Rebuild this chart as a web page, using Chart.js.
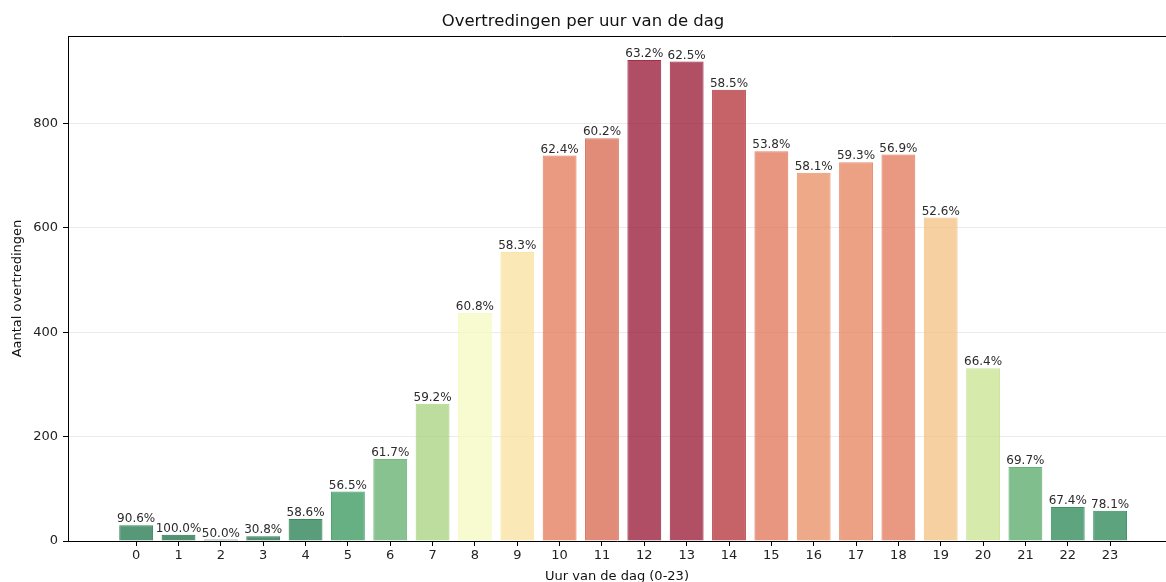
<!DOCTYPE html>
<html>
<head>
<meta charset="utf-8">
<script src="https://cdn.jsdelivr.net/npm/chart.js@4.4.0/dist/chart.umd.min.js"></script>
<style>
  body { margin: 0; background: #fff; }
  #wrap { width: 1166px; height: 582px; position: relative; }
</style>
</head>
<body>
<div id="wrap"><canvas id="myChart"></canvas></div>
<script>
// Data
const hours = [0, 1, 2, 3, 4, 5, 6, 7, 8, 9, 10, 11, 12, 13, 14, 15, 16, 17, 18, 19, 20, 21, 22, 23];
const counts = [30, 12, 3, 9, 42, 95, 157, 263, 437, 554, 739, 772, 922, 919, 865, 747, 706, 726, 741, 620, 331, 142, 65, 58];
const percentLabels = ["90.6%", "100.0%", "50.0%", "30.8%", "58.6%", "56.5%", "61.7%", "59.2%", "60.8%", "58.3%",
  "62.4%", "60.2%", "63.2%", "62.5%", "58.5%", "53.8%", "58.1%", "59.3%", "56.9%", "52.6%",
  "66.4%", "69.7%", "67.4%", "78.1%"];
const yTicks = [0, 200, 400, 600, 800];

// RdYlGn_r colormap (matplotlib)
const rdylgn = ["#a50026", "#d73027", "#f46d43", "#fdae61", "#fee08b", "#ffffbf",
  "#d9ef8b", "#a6d96a", "#66bd63", "#1a9850", "#006837"].reverse();

function hexToRgb(h) {
  return [parseInt(h.substr(1, 2), 16), parseInt(h.substr(3, 2), 16), parseInt(h.substr(5, 2), 16)];
}

function cmap(t, alpha) {
  t = Math.max(0, Math.min(1, t));
  let pos = t * (rdylgn.length - 1);
  let i = Math.min(Math.floor(pos), rdylgn.length - 2);
  let f = pos - i;
  let a = hexToRgb(rdylgn[i]);
  let b = hexToRgb(rdylgn[i + 1]);
  let c = a.map((v, k) => v + (b[k] - v) * f);
  // iets minder verzadigd, zoals in het origineel
  let lum = 0.3 * c[0] + 0.59 * c[1] + 0.11 * c[2];
  c = c.map(v => Math.round(v * 0.82 + lum * 0.18));
  return "rgba(" + c[0] + "," + c[1] + "," + c[2] + "," + alpha + ")";
}

let maxCount = Math.max(...counts);
let barColors = counts.map(c => cmap(c / maxCount, 0.72));
let edgeColors = counts.map(c => cmap(c / maxCount, 0.85));

// Percentages above bars
const labelPlugin = {
  id: "barLabels",
  afterDatasetsDraw(chart) {
    let ctx = chart.ctx;
    let meta = chart.getDatasetMeta(0);
    ctx.save();
    ctx.font = "normal 12px 'DejaVu Sans', sans-serif";
    ctx.fillStyle = "#2b2b2b";
    ctx.textAlign = "center";
    ctx.textBaseline = "bottom";
    meta.data.forEach((el, i) => {
      ctx.fillText(percentLabels[i], el.x, el.y);
    });
    ctx.restore();
  }
};

// Bovenrand van het plotgebied
const framePlugin = {
  id: "frame",
  afterDraw(chart) {
    let a = chart.chartArea;
    let ctx = chart.ctx;
    ctx.save();
    ctx.strokeStyle = "#000";
    ctx.lineWidth = 1;
    ctx.beginPath();
    ctx.moveTo(a.left, a.top + 0.5);
    ctx.lineTo(a.right, a.top + 0.5);
    ctx.stroke();
    ctx.restore();
  }
};

let ctx = document.getElementById("myChart").getContext("2d");
new Chart(ctx, {
  type: "bar",
  data: {
    datasets: [
      {
        data: hours.map((h, i) => ({ x: h, y: counts[i] })),
        backgroundColor: barColors,
        borderColor: edgeColors,
        borderWidth: 1,
        barPercentage: 0.8,
        categoryPercentage: 1.0
      }
    ]
  },
  plugins: [labelPlugin, framePlugin],
  options: {
    responsive: true,
    maintainAspectRatio: false,
    animation: false,
    layout: { padding: 0 },
    plugins: {
      legend: { display: false },
      tooltip: { enabled: false },
      title: {
        display: true,
        text: "Overtredingen per uur van de dag",
        color: "#111",
        font: { family: "DejaVu Sans", size: 16.5, weight: "normal" },
        padding: { top: 12, bottom: 4.2 }
      }
    },
    scales: {
      x: {
        type: "linear",
        min: -1.61,
        max: 24.32,
        offset: false,
        afterBuildTicks(scale) {
          scale.ticks = hours.map(v => ({ value: v }));
        },
        afterFit(scale) {
          scale.height = 41;
        },
        ticks: {
          color: "#222",
          font: { family: "DejaVu Sans", size: 13 },
          padding: 2,
          maxRotation: 0,
          autoSkip: false
        },
        grid: {
          offset: false,
          drawOnChartArea: false,
          tickLength: 5,
          tickColor: "#000"
        },
        border: { color: "#000", width: 1 },
        title: {
          display: true,
          text: "Uur van de dag (0-23)",
          color: "#111",
          font: { family: "DejaVu Sans", size: 13 },
          padding: { top: 0, bottom: -2 }
        }
      },
      y: {
        min: 0,
        max: 968,
        afterBuildTicks(scale) {
          scale.ticks = yTicks.map(v => ({ value: v }));
        },
        afterFit(scale) {
          scale.width = 68;
        },
        ticks: {
          color: "#222",
          font: { family: "DejaVu Sans", size: 13 },
          padding: 5
        },
        grid: {
          color: "rgba(0,0,0,0.08)",
          tickLength: 5,
          tickColor: "#000"
        },
        border: { color: "#000", width: 1 },
        title: {
          display: true,
          text: "Aantal overtredingen",
          color: "#111",
          font: { family: "DejaVu Sans", size: 13 },
          padding: { top: 10, bottom: 0 }
        }
      }
    }
  }
});
</script>
</body>
</html>
